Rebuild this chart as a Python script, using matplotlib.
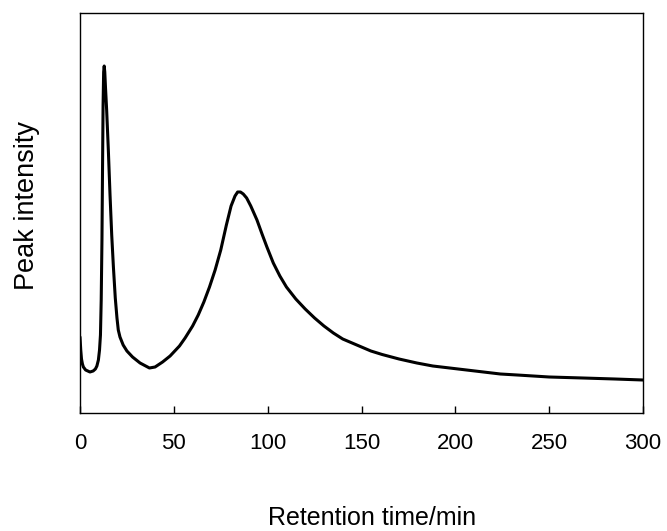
import matplotlib
matplotlib.use("Agg")
import matplotlib.pyplot as plt

plt.rcParams['font.family'] = ['Liberation Sans', 'DejaVu Sans']

# Retention time (min) and peak intensity (arbitrary units)
retention_time = [0, 0.4, 0.8, 1.3, 1.8, 3, 5.3, 7, 8.2, 9, 9.8, 10.4, 10.9, 11.3,
                  11.7, 12.0, 12.3, 12.6, 12.9, 13.2, 13.6, 14.2, 15.1, 16, 16.9,
                  17.8, 18.8, 19.7, 20.4, 21.3, 23, 25, 28, 32, 37, 40, 44, 48, 53,
                  56, 60, 63, 66, 69, 72, 75, 78, 80.5, 82.6, 84, 85.5, 87,
                  88.8, 91, 94.3, 97, 99.6, 103, 106.5, 110, 115, 120, 125, 130,
                  135, 140, 145, 150, 155, 161, 170, 179.5, 188, 197, 206, 215,
                  224, 233, 250, 268, 285, 300]
peak_y_px = [337, 350, 359, 364, 367, 370, 372, 371, 369, 366, 360, 350, 335, 300,
             240, 170, 105, 72, 66, 72, 88, 110, 150, 195, 235,
             267, 298, 318, 330, 337, 345, 351, 357, 363, 368, 367, 362, 356, 346,
             338, 326, 315, 302, 287, 270, 250, 225, 206, 196, 192, 192, 194,
             198, 206, 220, 234, 247, 263, 276, 287, 299, 309, 318, 326,
             333, 339, 343, 347, 351, 354.5, 359, 363, 366, 368, 370, 372,
             374, 375, 377, 378, 379, 380]
intensity = [412.5 - v for v in peak_y_px]

x_ticks = [0, 50, 100, 150, 200, 250, 300]

fig = plt.figure(figsize=(6.67, 5.31), dpi=100)
ax = fig.add_axes([80/667, (531-412.5)/531, 563/667, 399.5/531])
ax.plot(retention_time, intensity, color='black', linewidth=2.2,
        solid_joinstyle='round', solid_capstyle='round')
ax.set_xlim(0, 300)
ax.set_ylim(0, 399.5)
ax.set_xticks(x_ticks)
ax.set_yticks([])
ax.tick_params(axis='x', direction='in', length=5, width=1, pad=14.5, labelsize=16)
for s in ax.spines.values():
    s.set_linewidth(1.0)
ax.set_xlabel('Retention time/min', fontsize=18)
ax.xaxis.set_label_coords((372 - 80) / 563, -(525 - 412.5) / 399.5, transform=ax.transAxes)
ax.xaxis.label.set_va('baseline')
ax.set_ylabel('Peak intensity', fontsize=19.5)
ax.yaxis.set_label_coords(-(80 - 14) / 563, (412.5 - 206) / 399.5, transform=ax.transAxes)
ax.yaxis.label.set_va('top')
fig.savefig('out.png', dpi=100)
